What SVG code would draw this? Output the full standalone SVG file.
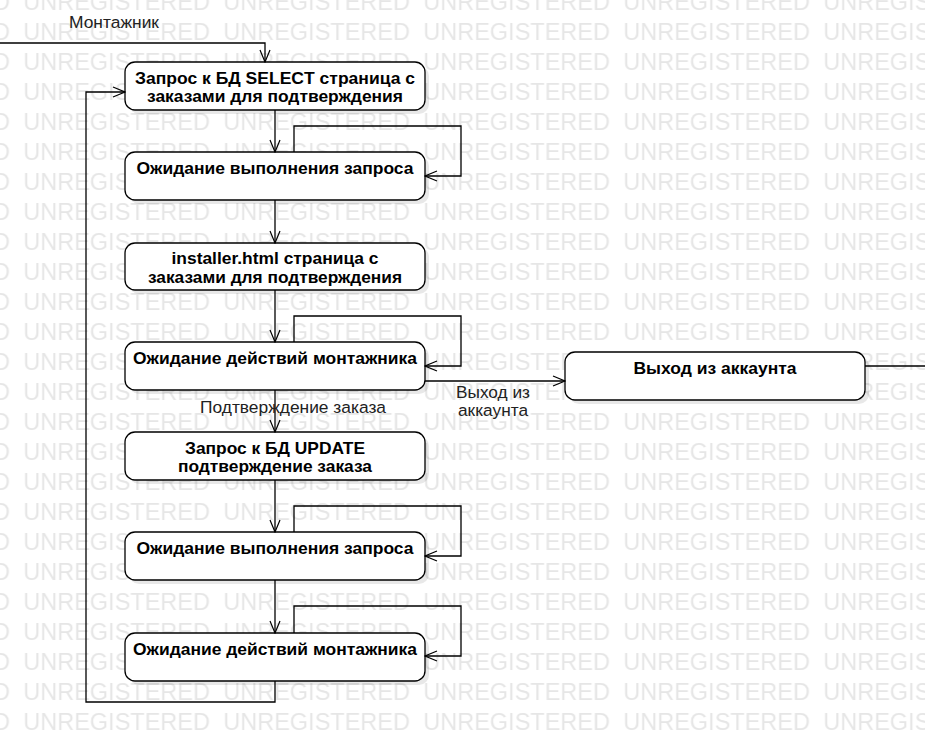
<svg xmlns="http://www.w3.org/2000/svg" width="925" height="730" viewBox="0 0 925 730">
<style>
.node rect.box{fill:#fff;stroke:#000;stroke-width:1.3}
.node rect.sh{fill:#000;opacity:0.09}
.t{font-family:"Liberation Sans",Arial,sans-serif;font-size:16.5px;font-weight:bold;fill:#000;text-anchor:middle}
.lbl{font-family:"Liberation Sans",Arial,sans-serif;font-size:16.3px;fill:#222}
.c{fill:none;stroke:#000;stroke-width:1.3}
.wm{font-family:"Liberation Sans",Arial,sans-serif;font-size:23.5px;fill:#e6e6e6}
</style>
<defs>
<marker id="arr" markerWidth="14" markerHeight="12" refX="13" refY="6" orient="auto" markerUnits="userSpaceOnUse">
<path d="M1,1 L13,6 L1,11" fill="none" stroke="#000" stroke-width="1.2"/>
</marker>
<pattern id="wmp" patternUnits="userSpaceOnUse" x="21.3" y="-10" width="200" height="30">
<text class="wm" x="2" y="20">UNREGISTERED</text>
</pattern>
</defs>
<rect width="925" height="730" fill="#fff"/>
<rect id="watermark" width="925" height="730" fill="url(#wmp)"/>

<g id="node1" class="node">
<rect class="sh" x="129" y="66" width="300" height="48" rx="10"/>
<rect class="box" x="125" y="62" width="300" height="48" rx="10"/>
<text class="t" x="275" y="84" textLength="280" lengthAdjust="spacingAndGlyphs">Запрос к БД SELECT страница с</text>
<text class="t" x="275" y="102" textLength="256" lengthAdjust="spacingAndGlyphs">заказами для подтверждения</text>
</g>
<g id="node2" class="node">
<rect class="sh" x="129" y="156" width="300" height="48" rx="10"/>
<rect class="box" x="125" y="152" width="300" height="48" rx="10"/>
<text class="t" x="275" y="174" textLength="277" lengthAdjust="spacingAndGlyphs">Ожидание выполнения запроса</text>
</g>
<g id="node3" class="node">
<rect class="sh" x="129" y="247" width="300" height="47" rx="10"/>
<rect class="box" x="125" y="243" width="300" height="47" rx="10"/>
<text class="t" x="275" y="264" textLength="207" lengthAdjust="spacingAndGlyphs">installer.html страница с</text>
<text class="t" x="275" y="283" textLength="254" lengthAdjust="spacingAndGlyphs">заказами для подтверждения</text>
</g>
<g id="node4" class="node">
<rect class="sh" x="129" y="346" width="300" height="48" rx="10"/>
<rect class="box" x="125" y="342" width="300" height="48" rx="10"/>
<text class="t" x="275" y="364" textLength="284" lengthAdjust="spacingAndGlyphs">Ожидание действий монтажника</text>
</g>
<g id="node5" class="node">
<rect class="sh" x="569" y="356" width="300" height="48" rx="10"/>
<rect class="box" x="565" y="352" width="300" height="48" rx="10"/>
<text class="t" x="715" y="374" textLength="163" lengthAdjust="spacingAndGlyphs">Выход из аккаунта</text>
</g>
<g id="node6" class="node">
<rect class="sh" x="129" y="436" width="300" height="48" rx="10"/>
<rect class="box" x="125" y="432" width="300" height="48" rx="10"/>
<text class="t" x="275" y="454" textLength="180" lengthAdjust="spacingAndGlyphs">Запрос к БД UPDATE</text>
<text class="t" x="275" y="472" textLength="194" lengthAdjust="spacingAndGlyphs">подтверждение заказа</text>
</g>
<g id="node7" class="node">
<rect class="sh" x="129" y="536" width="300" height="48" rx="10"/>
<rect class="box" x="125" y="532" width="300" height="48" rx="10"/>
<text class="t" x="275" y="554" textLength="277" lengthAdjust="spacingAndGlyphs">Ожидание выполнения запроса</text>
</g>
<g id="node8" class="node">
<rect class="sh" x="129" y="637" width="300" height="48" rx="10"/>
<rect class="box" x="125" y="633" width="300" height="48" rx="10"/>
<text class="t" x="275" y="655" textLength="284" lengthAdjust="spacingAndGlyphs">Ожидание действий монтажника</text>
</g>

<g id="connectors">
<polyline class="c" points="0,43 265,43 265,62" marker-end="url(#arr)"/>
<text class="lbl" x="69" y="28" textLength="90" lengthAdjust="spacingAndGlyphs">Монтажник</text>
<line class="c" x1="275" y1="110" x2="275" y2="152" marker-end="url(#arr)"/>
<polyline class="c" points="294,152 294,126 461,126 461,176 425,176" marker-end="url(#arr)"/>
<line class="c" x1="275" y1="200" x2="275" y2="243" marker-end="url(#arr)"/>
<line class="c" x1="275" y1="290" x2="275" y2="342" marker-end="url(#arr)"/>
<polyline class="c" points="294,342 294,316 461,316 461,366 425,366" marker-end="url(#arr)"/>
<line class="c" x1="425" y1="381" x2="565" y2="381" marker-end="url(#arr)"/>
<text class="lbl" x="493" y="398" text-anchor="middle" textLength="74" lengthAdjust="spacingAndGlyphs">Выход из</text>
<text class="lbl" x="493" y="416" text-anchor="middle" textLength="70" lengthAdjust="spacingAndGlyphs">аккаунта</text>
<line class="c" x1="275" y1="390" x2="275" y2="432" marker-end="url(#arr)"/>
<text class="lbl" x="293" y="413" text-anchor="middle" textLength="186" lengthAdjust="spacingAndGlyphs">Подтверждение заказа</text>
<line class="c" x1="275" y1="480" x2="275" y2="532" marker-end="url(#arr)"/>
<polyline class="c" points="294,532 294,506 461,506 461,556 425,556" marker-end="url(#arr)"/>
<line class="c" x1="275" y1="580" x2="275" y2="633" marker-end="url(#arr)"/>
<polyline class="c" points="294,633 294,606 461,606 461,656 425,656" marker-end="url(#arr)"/>
<polyline class="c" points="275,681 275,702 86,702 86,92 125,92" marker-end="url(#arr)"/>
<line class="c" x1="865" y1="366" x2="925" y2="366"/>
</g>
</svg>
